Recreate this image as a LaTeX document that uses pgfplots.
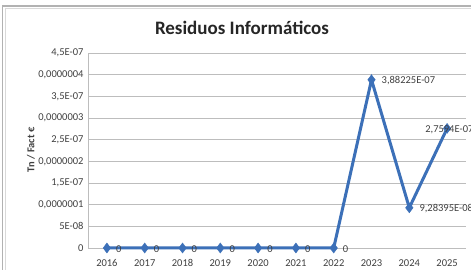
\documentclass[border=0pt]{standalone}
\usepackage{pgfplots}
\pgfplotsset{compat=1.18}
\usepackage{fontspec}
\setmainfont{Carlito}
\definecolor{lineblue}{HTML}{3C70B8}
\definecolor{gridgray}{HTML}{BDBDBD}
\definecolor{txt}{HTML}{404040}
\begin{document}
\begin{tikzpicture}
\useasboundingbox (0pt,0pt) rectangle (471pt,270pt);
\clip (0pt,0pt) rectangle (471pt,270pt);
\fill[white] (0pt,0pt) rectangle (471pt,270pt);
\draw[gray!60, line width=1.2pt] (2.5pt,-5pt) -- (2.5pt,264pt) -- (480pt,264pt);
\draw[gray!30, line width=0.6pt] (5pt,-5pt) -- (5pt,262pt) -- (480pt,262pt);
\node[font=\bfseries\fontsize{19}{22}\selectfont, text=black!85] at (242pt,242pt) {Residuos Informáticos};
\node[rotate=90, font=\bfseries\fontsize{10.5}{12}\selectfont, text=txt] at (31pt,120pt) {Tn / Fact €};
\begin{axis}[
  at={(88pt,22pt)}, anchor=south west, scale only axis,
  width=378pt, height=195pt,
  xmin=-0.5, xmax=9.5, ymin=0, ymax=4.5e-7,
  clip=false,
  axis lines=left,
  axis line style={gridgray, line width=0.8pt, -},
  xtick={0,...,9},
  xticklabels={2016,2017,2018,2019,2020,2021,2022,2023,2024,2025},
  ytick={0,5e-8,1e-7,1.5e-7,2e-7,2.5e-7,3e-7,3.5e-7,4e-7,4.5e-7},
  yticklabels={0,5E-08,{0,0000001},{1,5E-07},{0,0000002},{2,5E-07},{0,0000003},{3,5E-07},{0,0000004},{4,5E-07}},
  scaled y ticks=false,
  major tick length=0pt,
  ymajorgrids,
  grid style={gridgray, line width=0.8pt},
  tick label style={font=\fontsize{10.5}{12}\selectfont, text=txt},
  xticklabel style={yshift=-8pt},
  yticklabel style={xshift=-1pt},
]
\addplot[lineblue, line width=3pt, mark=diamond*, mark size=5pt,
  mark options={solid, line width=0.4pt, fill=lineblue},
  point meta=explicit symbolic,
  nodes near coords,
  visualization depends on={\thisrow{dx} \as \dx},
  every node near coord/.append style={anchor=west, xshift=\dx pt, yshift=-1pt,
     font=\fontsize{10.5}{12}\selectfont, text=txt, inner sep=0pt},
] table[x=x, y=y, meta=lab] {
x y lab dx
0 0 0 9
1 0 0 9
2 0 0 9
3 0 0 9
4 0 0 9
5 0 0 9
6 0 0 9
7 3.88225e-7 {3,88225E-07} 10
8 9.28395e-8 {9,28395E-08} 10
9 2.7594e-7 {2,7594E-07} -22
};
\end{axis}
\end{tikzpicture}
\end{document}
